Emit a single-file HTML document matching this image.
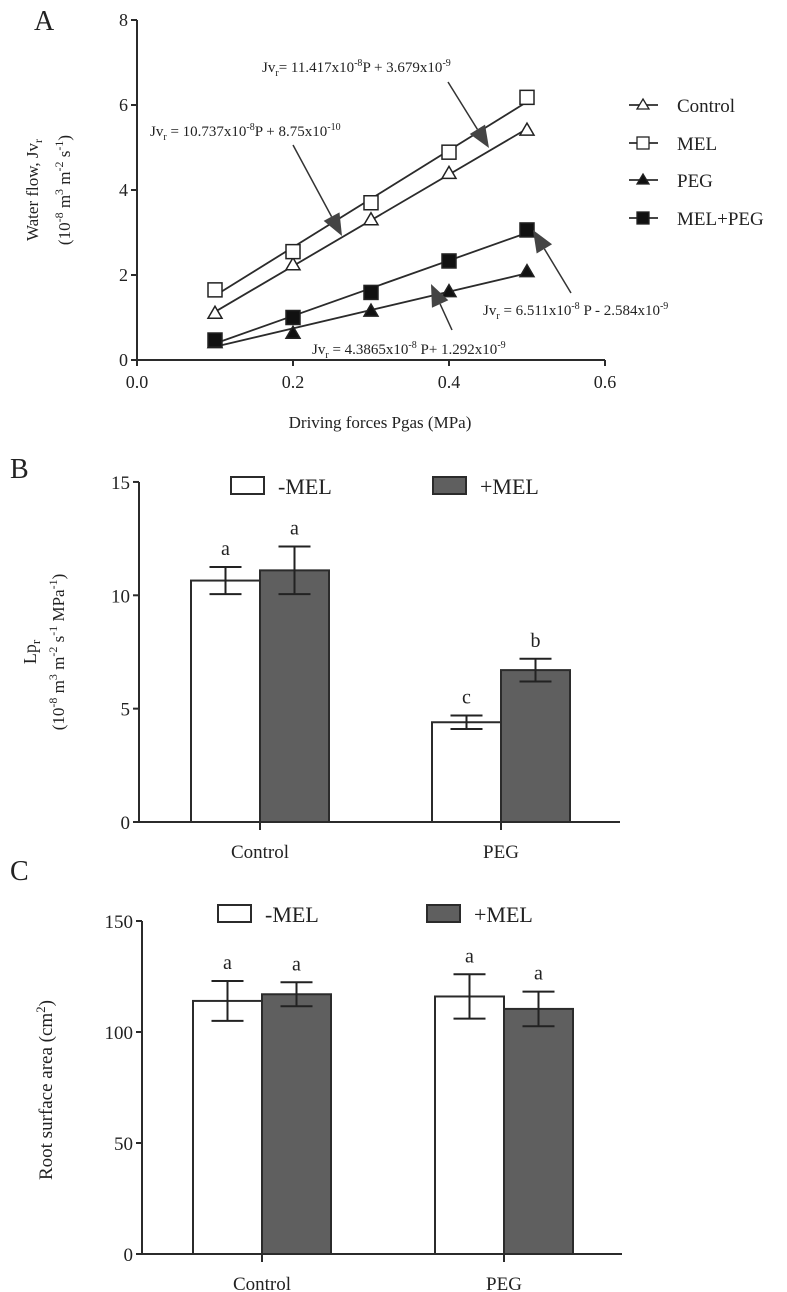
<!DOCTYPE html>
<html><head><meta charset="utf-8"><style>
html,body{margin:0;padding:0;background:#fff;}
svg{display:block;font-family:"Liberation Serif",serif;}
</style></head><body>
<svg id="fig" width="787" height="1292" viewBox="0 0 787 1292" xmlns="http://www.w3.org/2000/svg"></svg>
<script>
// ---------- Panel A data ----------
const aX = [0.1, 0.2, 0.3, 0.4, 0.5];
const aControl = [1.1, 2.24, 3.3, 4.39, 5.41];
const aMEL = [1.65, 2.55, 3.7, 4.89, 6.18];
const aPEG = [0.41, 0.63, 1.15, 1.61, 2.08];
const aMELPEG = [0.47, 1.0, 1.59, 2.33, 3.06];
const aSeriesNames = ["Control", "MEL", "PEG", "MEL+PEG"];
const aXTicks = [0.0, 0.2, 0.4, 0.6];
const aXTickLabels = ["0.0", "0.2", "0.4", "0.6"];
const aYTicks = [0, 2, 4, 6, 8];
// ---------- Panel B data ----------
const bCategories = ["Control", "PEG"];
const bMinus = [10.65, 4.4];
const bMinusErr = [0.6, 0.3];
const bPlus = [11.1, 6.7];
const bPlusErr = [1.05, 0.5];
const bMinusLetters = ["a", "c"];
const bPlusLetters = ["a", "b"];
const bYTicks = [0, 5, 10, 15];
// ---------- Panel C data ----------
const cCategories = ["Control", "PEG"];
const cMinus = [114, 116];
const cMinusErr = [9, 10];
const cPlus = [117, 110.4];
const cPlusErr = [5.4, 7.8];
const cMinusLetters = ["a", "a"];
const cPlusLetters = ["a", "a"];
const cYTicks = [0, 50, 100, 150];

const NS = "http://www.w3.org/2000/svg";
const svg = document.getElementById("fig");
const INK = "#2b2b2b";
function mk(tag, attrs, parent) {
  const e = document.createElementNS(NS, tag);
  for (const k in attrs) e.setAttribute(k, attrs[k]);
  (parent || svg).appendChild(e);
  return e;
}
function txt(x, y, s, size, anchor, parent) {
  const t = mk("text", {x: x, y: y, "font-size": size, "text-anchor": anchor || "start", fill: "#222"}, parent);
  t.innerHTML = s;
  return t;
}

// ================= Panel A =================
const ax = v => 137 + v * 780;
const ay = v => 360 - v * 42.5;
const gA = mk("g", {});


const la = txt(34, 30, "A", 28, "start", gA);


// axes
const axA = mk("path", {d: `M${ax(0)},${ay(8)} V${ay(0)} H${ax(0.6)}`, stroke: INK, "stroke-width": 2, fill: "none"}, gA);


aYTicks.forEach(v => {
  mk("line", {x1: ax(0) - 6, x2: ax(0), y1: ay(v), y2: ay(v), stroke: INK, "stroke-width": 2}, gA);
  const t = txt(ax(0) - 9, ay(v) + 6, String(v), 18, "end", gA);
  
  
});
aXTicks.forEach((v, i) => {
  mk("line", {x1: ax(v), x2: ax(v), y1: ay(0), y2: ay(0) + 6, stroke: INK, "stroke-width": 2}, gA);
  const t = txt(ax(v), 388, aXTickLabels[i], 18, "middle", gA);
  
  
});
const axt = txt(380, 428, "Driving forces Pgas (MPa)", 17, "middle", gA);


const ayt = mk("text", {transform: "translate(38,190) rotate(-90)", "font-size": 17, "text-anchor": "middle", fill: "#222"}, gA);
ayt.innerHTML = 'Water flow, Jv<tspan font-size="12" dy="4">r</tspan>';


const ayt2 = mk("text", {transform: "translate(70,190) rotate(-90)", "font-size": 17, "text-anchor": "middle", fill: "#222"}, gA);
ayt2.innerHTML = '(10<tspan font-size="12" dy="-7">-8</tspan><tspan dy="7"> m</tspan><tspan font-size="12" dy="-7">3</tspan><tspan dy="7"> m</tspan><tspan font-size="12" dy="-7">-2</tspan><tspan dy="7"> s</tspan><tspan font-size="12" dy="-7">-1</tspan><tspan dy="7">)</tspan>';



function fit(xs, ys) {
  const n = xs.length;
  const mx = xs.reduce((a, b) => a + b) / n, my = ys.reduce((a, b) => a + b) / n;
  let sxy = 0, sxx = 0;
  for (let i = 0; i < n; i++) { sxy += (xs[i] - mx) * (ys[i] - my); sxx += (xs[i] - mx) ** 2; }
  const m = sxy / sxx; return [m, my - m * mx];
}
function marker(kind, cx, cy, g) {
  const filled = kind === "PEG" || kind === "MEL+PEG";
  const fill = filled ? "#111" : "#fff";
  if (kind === "Control" || kind === "PEG") {
    return mk("path", {d: `M${cx},${cy - 7} L${cx + 7},${cy + 5} L${cx - 7},${cy + 5} Z`, fill: fill, stroke: "#222", "stroke-width": 1.5}, g);
  }
  return mk("rect", {x: cx - 7, y: cy - 7, width: 14, height: 14, fill: fill, stroke: "#222", "stroke-width": 1.5}, g);
}
const aAll = [aControl, aMEL, aPEG, aMELPEG];
aAll.forEach((ys, si) => {
  const name = aSeriesNames[si];
  const [m, b] = fit(aX, ys);
  const x0 = aX[0], x1 = aX[aX.length - 1];
  const ln = mk("line", {x1: ax(x0), y1: ay(m * x0 + b), x2: ax(x1), y2: ay(m * x1 + b), stroke: INK, "stroke-width": 1.8}, gA);
  
  
  ys.forEach((v, i) => {
    const p = marker(name, ax(aX[i]), ay(v), gA);
    
    
  });
});
// legend A
const legRows = [105, 143, 180, 218];
aSeriesNames.forEach((n, i) => {
  const g = mk("g", {}, gA);
  
  
  mk("line", {x1: 629, x2: 658, y1: legRows[i], y2: legRows[i], stroke: INK, "stroke-width": 1.8}, g);
  if (n === "Control" || n === "PEG") {
    const f = n === "PEG" ? "#111" : "#fff";
    mk("path", {d: `M643,${legRows[i] - 6} L649,${legRows[i] + 4} L637,${legRows[i] + 4} Z`, fill: f, stroke: "#222", "stroke-width": 1.3}, g);
  } else {
    mk("rect", {x: 637, y: legRows[i] - 6, width: 12, height: 12, fill: n === "MEL" ? "#fff" : "#111", stroke: "#222", "stroke-width": 1.3}, g);
  }
  txt(677, legRows[i] + 7, n, 19, "start", g);
});
// equations and arrows
function arrow(x1, y1, x2, y2, name) {
  const g = mk("g", {}, gA);
  
  
  const dx = x2 - x1, dy = y2 - y1, L = Math.hypot(dx, dy), ux = dx / L, uy = dy / L;
  const hl = 22, hw = 9;
  const bx = x2 - ux * hl, by = y2 - uy * hl;
  mk("line", {x1: x1, y1: y1, x2: bx, y2: by, stroke: "#333", "stroke-width": 1.5}, g);
  mk("path", {d: `M${x2},${y2} L${bx - uy * hw},${by + ux * hw} L${bx + uy * hw},${by - ux * hw} Z`, fill: "#444"}, g);
}
const sup = s => `<tspan font-size="10" dy="-6">${s}</tspan><tspan dy="6">`;
const sub = `<tspan font-size="10" dy="4">r</tspan><tspan dy="-4">`;
function eq(x, y, html, name) {
  const t = mk("text", {x: x, y: y, "font-size": 15, fill: "#222"}, gA);
  t.innerHTML = html;
  
  
}
eq(262, 72, `Jv${sub}= 11.417x10</tspan>${sup('-8')}P + 3.679x10</tspan>${sup('-9')}</tspan>`, 'equation-mel');
arrow(448, 82, 489, 148, 'arrow-mel');
eq(150, 136, `Jv${sub} = 10.737x10</tspan>${sup('-8')}P + 8.75x10</tspan>${sup('-10')}</tspan>`, 'equation-control');
arrow(293, 145, 342, 236, 'arrow-control');
eq(483, 315, `Jv${sub} = 6.511x10</tspan>${sup('-8')} P - 2.584x10</tspan>${sup('-9')}</tspan>`, 'equation-mel-peg');
arrow(571, 293, 533, 230, 'arrow-mel-peg');
eq(312, 354, `Jv${sub} = 4.3865x10</tspan>${sup('-8')} P+ 1.292x10</tspan>${sup('-9')}</tspan>`, 'equation-peg');
arrow(452, 330, 431, 284, 'arrow-peg');

// ================= Bar panels =================
function barPanel(o) {
  const g = mk("g", {});
  
  
  const y = v => o.y0 - v * o.scale;
  const lab = txt(o.labelX, o.labelY, o.letter, 28, "start", g);
  
  
  o.ticks.forEach(v => {
    mk("line", {x1: o.axX - 6, x2: o.axX, y1: y(v), y2: y(v), stroke: INK, "stroke-width": 2}, g);
    const t = txt(o.axX - 9, y(v) + 7, String(v), 19, "end", g);
    
    
  });
  o.cats.forEach((c, i) => {
    const left = o.groupLeft[i], w = o.barW, cx = left + w;
    [[o.minus, o.minusErr, o.minusL, "#fff", left, "minus"], [o.plus, o.plusErr, o.plusL, "#5f5f5f", left + w, "plus"]].forEach(s => {
      const v = s[0][i], e = s[1][i];
      const r = mk("rect", {x: s[4], y: y(v), width: w, height: o.y0 - y(v), fill: s[3], stroke: INK, "stroke-width": 2}, g);
      
      
      const mx = s[4] + w / 2;
      const eb = mk("path", {d: `M${mx - 16},${y(v + e)} H${mx + 16} M${mx},${y(v + e)} V${y(v - e)} M${mx - 16},${y(v - e)} H${mx + 16}`, stroke: "#222", "stroke-width": 2, fill: "none"}, g);
      
      
      const l = txt(mx, y(v + e) - 12, s[2][i], 20, "middle", g);
      
      
    });
    mk("line", {x1: cx, x2: cx, y1: o.y0, y2: o.y0 + 8, stroke: INK, "stroke-width": 2}, g);
    const ct = txt(cx, o.y0 + 36, c, 19, "middle", g);
    
    
  });
  const axp = mk("path", {d: `M${o.axX},${y(o.ticks[o.ticks.length - 1])} V${o.y0} H${o.axEnd}`, stroke: INK, "stroke-width": 2, fill: "none"}, g);
  
  
  // legend
  const lg1 = mk("g", {}, g);
  
  
  mk("rect", {x: o.legX1, y: o.legY, width: 33, height: 17, fill: "#fff", stroke: INK, "stroke-width": 2}, lg1);
  txt(o.legX1 + 47, o.legY + 17, "-MEL", 22, "start", lg1);
  const lg2 = mk("g", {}, g);
  
  
  mk("rect", {x: o.legX2, y: o.legY, width: 33, height: 17, fill: "#5f5f5f", stroke: INK, "stroke-width": 2}, lg2);
  txt(o.legX2 + 47, o.legY + 17, "+MEL", 22, "start", lg2);
  return g;
}
barPanel({name: "panel-b", letter: "B", labelX: 10, labelY: 478, y0: 822, scale: 22.67, axX: 139, axEnd: 620,
  ticks: bYTicks, cats: bCategories, groupLeft: [191, 432], barW: 69,
  minus: bMinus, minusErr: bMinusErr, plus: bPlus, plusErr: bPlusErr, minusL: bMinusLetters, plusL: bPlusLetters,
  legX1: 231, legX2: 433, legY: 477});
const byt = mk("text", {transform: "translate(36,652) rotate(-90)", "font-size": 18, "text-anchor": "middle", fill: "#222"});
byt.innerHTML = 'Lp<tspan font-size="13" dy="4">r</tspan>';


const byt2 = mk("text", {transform: "translate(64,652) rotate(-90)", "font-size": 17, "text-anchor": "middle", fill: "#222"});
byt2.innerHTML = '(10<tspan font-size="12" dy="-7">-8</tspan><tspan dy="7"> m</tspan><tspan font-size="12" dy="-7">3</tspan><tspan dy="7"> m</tspan><tspan font-size="12" dy="-7">-2</tspan><tspan dy="7"> s</tspan><tspan font-size="12" dy="-7">-1</tspan><tspan dy="7"> MPa</tspan><tspan font-size="12" dy="-7">-1</tspan><tspan dy="7">)</tspan>';



barPanel({name: "panel-c", letter: "C", labelX: 10, labelY: 880, y0: 1254, scale: 2.22, axX: 142, axEnd: 622,
  ticks: cYTicks, cats: cCategories, groupLeft: [193, 435], barW: 69,
  minus: cMinus, minusErr: cMinusErr, plus: cPlus, plusErr: cPlusErr, minusL: cMinusLetters, plusL: cPlusLetters,
  legX1: 218, legX2: 427, legY: 905});
const cyt = mk("text", {transform: "translate(52,1090) rotate(-90)", "font-size": 19, "text-anchor": "middle", fill: "#222"});
cyt.innerHTML = 'Root surface area (cm<tspan font-size="13" dy="-7">2</tspan><tspan dy="7">)</tspan>';


</script>
</body></html>
